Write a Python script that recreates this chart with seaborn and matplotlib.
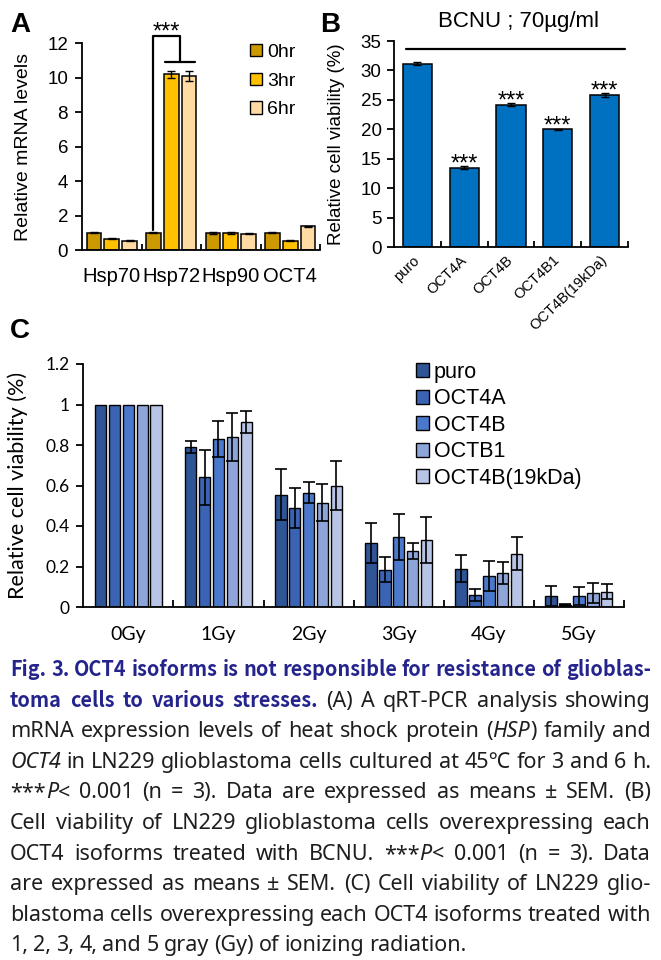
import numpy as np
import pandas as pd
import seaborn as sns
import matplotlib.pyplot as plt
from matplotlib.patches import Patch

# ---------------- data: panel A (qRT-PCR) ----------------
genes = ['Hsp70', 'Hsp72', 'Hsp90', 'OCT4']
times = ['0hr', '3hr', '6hr']
mrna_0hr = [1.0, 1.0, 1.0, 1.0]
mrna_3hr = [0.65, 10.2, 1.0, 0.55]
mrna_6hr = [0.55, 10.1, 0.95, 1.38]
err_0hr = [0.03, 0.03, 0.05, 0.04]
err_3hr = [0.02, 0.22, 0.07, 0.02]
err_6hr = [0.02, 0.30, 0.02, 0.04]
time_colors = ['#CC9900', '#FFC000', '#FFDBA3']

# ---------------- data: panel B (BCNU) ----------------
bcnu_lines = ['puro', 'OCT4A', 'OCT4B', 'OCT4B1', 'OCT4B(19kDa)']
bcnu_viab = [31.1, 13.5, 24.2, 20.0, 25.8]
bcnu_err = [0.25, 0.2, 0.2, 0.1, 0.3]
bcnu_sig = ['', '***', '***', '***', '***']

# ---------------- data: panel C (radiation) ----------------
doses = ['0Gy', '1Gy', '2Gy', '3Gy', '4Gy', '5Gy']
isoforms = ['puro', 'OCT4A', 'OCT4B', 'OCTB1', 'OCT4B(19kDa)']
viab_puro = [1.0, 0.79, 0.555, 0.315, 0.19, 0.053]
viab_oct4a = [1.0, 0.64, 0.49, 0.185, 0.058, 0.012]
viab_oct4b = [1.0, 0.83, 0.565, 0.345, 0.152, 0.054]
viab_octb1 = [1.0, 0.84, 0.515, 0.278, 0.168, 0.071]
viab_19kda = [1.0, 0.915, 0.60, 0.332, 0.263, 0.076]
sem_puro = [0, 0.03, 0.125, 0.098, 0.066, 0.049]
sem_oct4a = [0, 0.134, 0.10, 0.064, 0.03, 0.004]
sem_oct4b = [0, 0.088, 0.05, 0.115, 0.075, 0.043]
sem_octb1 = [0, 0.12, 0.09, 0.04, 0.056, 0.049]
sem_19kda = [0, 0.054, 0.12, 0.114, 0.081, 0.038]
iso_colors = ['#2F5597', '#3A63B4', '#4A78CC', '#8EA5DA', '#B8C4E6']

# ---------------- caption ----------------
caption = [
    [("Fig. 3. OCT4 isoforms is not responsible for resistance of glioblas-", 'b')],
    [("toma cells to various stresses.", 'b'), (" (A) A qRT-PCR analysis showing", 'r')],
    [("mRNA expression levels of heat shock protein (", 'r'), ("HSP", 'i'), (") family and", 'r')],
    [("OCT4", 'i'), (" in LN229 glioblastoma cells cultured at 45\u2103 for 3 and 6 h.", 'r')],
    [("***", 'r'), ("P", 'i'), ("< 0.001 (n = 3). Data are expressed as means \u00b1 SEM. (B)", 'r')],
    [("Cell viability of LN229 glioblastoma cells overexpressing each", 'r')],
    [("OCT4 isoforms treated with BCNU. ***", 'r'), ("P", 'i'), ("< 0.001 (n = 3). Data", 'r')],
    [("are expressed as means \u00b1 SEM. (C) Cell viability of LN229 glio-", 'r')],
    [("blastoma cells overexpressing each OCT4 isoforms treated with", 'r')],
    [("1, 2, 3, 4, and 5 gray (Gy) of ionizing radiation.", 'r')],
]

sns.set_theme(style='ticks', rc={'axes.edgecolor': 'black', 'xtick.color': 'black',
                                 'ytick.color': 'black', 'text.color': 'black',
                                 'axes.labelcolor': 'black', 'axes.linewidth': 1.3})
plt.rcParams['font.family'] = ['Liberation Sans', 'DejaVu Sans']

W, H = 661, 960
fig = plt.figure(figsize=(W / 100, H / 100), dpi=100)


def rect(l, t, r, b):
    return [l / W, 1 - b / H, (r - l) / W, (b - t) / H]


def add_errorbars(ax, containers, errs, capsize, lw=1.0):
    for cont, err in zip(containers, errs):
        for p, e in zip(cont, err):
            if e <= 0:
                continue
            ax.errorbar(p.get_x() + p.get_width() / 2, p.get_height(), yerr=e,
                        fmt='none', ecolor='black', elinewidth=lw, capsize=capsize,
                        capthick=lw, zorder=5)


# ================= Panel A =================
axA = fig.add_axes(rect(82, 43.3, 320, 250))
dfA = pd.DataFrame({'gene': genes * 3,
                    'time': np.repeat(times, len(genes)),
                    'value': mrna_0hr + mrna_3hr + mrna_6hr})
sns.barplot(data=dfA, x='gene', y='value', hue='time', palette=time_colors,
            width=0.9, gap=0.18, edgecolor='black', linewidth=1.1, saturation=1,
            errorbar=None, legend=False, ax=axA)
add_errorbars(axA, axA.containers, [err_0hr, err_3hr, err_6hr], capsize=3)
axA.set_xlim(-0.5, 3.5)
axA.set_ylim(0, 12)
axA.set_yticks(np.arange(0, 13, 2))
axA.set_xticks(np.arange(0.5, 4, 1), minor=True)
axA.tick_params(axis='x', which='major', length=0, pad=12, labelsize=14.5)
axA.tick_params(axis='x', which='minor', direction='in', length=4, width=1.3)
axA.tick_params(axis='y', length=5, width=1.3, labelsize=13.5, pad=5)
axA.set_xlabel('')
axA.set_ylabel('Relative mRNA levels', fontsize=14)
axA.yaxis.set_label_coords(-0.21, 0.5)
sns.despine(ax=axA)

# significance bracket Hsp72 0hr vs 3hr/6hr
c0 = axA.containers[0][1]
c3 = axA.containers[1][1]
c6 = axA.containers[2][1]
x0 = c0.get_x() + c0.get_width() / 2
x3 = c3.get_x() + c3.get_width() / 2
x6 = c6.get_x() + c6.get_width() / 2
xm = (x3 + x6) / 2
axA.plot([x0, x0, xm, xm], [1.15, 12.4, 12.4, 10.9], color='black', lw=1.6, clip_on=False)
axA.plot([x3 - 0.1, x6 + 0.1], [10.9, 10.9], color='black', lw=1.6, clip_on=False)
axA.text((x0 + xm) / 2, 12.25, '***', ha='center', va='baseline', fontsize=17, clip_on=False)

axA.legend([Patch(facecolor=c, edgecolor='black', lw=1) for c in time_colors], times,
           loc='upper left', bbox_to_anchor=(250 / W, 1 - 44 / H), bbox_transform=fig.transFigure,
           frameon=False, fontsize=14, handlelength=0.6, handleheight=0.6,
           handletextpad=0.3, labelspacing=0.6, borderpad=0, borderaxespad=0)

# ================= Panel B =================
axB = fig.add_axes(rect(394, 41, 628, 247))
sns.barplot(x=bcnu_lines, y=bcnu_viab, color='#0070C0', saturation=1, width=0.62,
            edgecolor='black', linewidth=1.1, errorbar=None, ax=axB)
add_errorbars(axB, axB.containers, [bcnu_err], capsize=3)
for p, s in zip(axB.containers[0], bcnu_sig):
    if s:
        axB.annotate(s, (p.get_x() + p.get_width() / 2, p.get_height()), xytext=(0, -2),
                     textcoords='offset points', ha='center', va='baseline', fontsize=17)
axB.plot([-0.24, 4.44], [33.6, 33.6], color='black', lw=1.6, clip_on=False)
axB.set_xlim(-0.5, 4.5)
axB.set_ylim(0, 35)
axB.set_yticks(np.arange(0, 36, 5))
axB.set_xticks(np.arange(0.5, 5, 1), minor=True)
axB.tick_params(axis='x', which='minor', direction='in', length=4, width=1.3)
axB.tick_params(axis='x', which='major', length=0, pad=8, labelsize=10.5)
axB.tick_params(axis='y', length=5, width=1.3, labelsize=13.5, pad=4)
plt.setp(axB.get_xticklabels(), rotation=44, ha='right', va='center', rotation_mode='anchor')
axB.set_ylabel('Relative cell viability (%)', fontsize=13.5)
axB.yaxis.set_label_coords(-0.209, 0.5)
sns.despine(ax=axB)
fig.text(519 / W, 1 - 22 / H, 'BCNU ; 70\u00b5g/ml', ha='center', va='center', fontsize=16)

# ================= Panel C =================
axC = fig.add_axes(rect(83.3, 364, 624, 607))
viab_all = [viab_puro, viab_oct4a, viab_oct4b, viab_octb1, viab_19kda]
sem_all = [sem_puro, sem_oct4a, sem_oct4b, sem_octb1, sem_19kda]
dfC = pd.DataFrame({'dose': doses * len(isoforms),
                    'isoform': np.repeat(isoforms, len(doses)),
                    'value': np.concatenate(viab_all)})
sns.barplot(data=dfC, x='dose', y='value', hue='isoform', palette=iso_colors,
            width=0.77, gap=0.18, edgecolor='black', linewidth=1.0, saturation=1,
            errorbar=None, legend=False, ax=axC)
add_errorbars(axC, axC.containers, sem_all, capsize=4.5, lw=1.2)
axC.set_xlim(-0.5, 5.5)
axC.set_ylim(0, 1.2)
axC.set_yticks(np.arange(0, 1.21, 0.2))
axC.set_yticklabels(['0', '0.2', '0.4', '0.6', '0.8', '1', '1.2'])
axC.set_xticks(np.arange(0.5, 6, 1), minor=True)
axC.tick_params(axis='x', which='minor', direction='in', length=5, width=1.3)
axC.tick_params(axis='x', which='major', length=0, pad=14)
axC.tick_params(axis='y', length=5, width=1.3, pad=5)
for lab in axC.get_xticklabels():
    lab.set_fontfamily(['Lato', 'DejaVu Sans'])
    lab.set_fontsize(14)
for lab in axC.get_yticklabels():
    lab.set_fontfamily(['Lato', 'DejaVu Sans'])
    lab.set_fontsize(12.5)
axC.set_xlabel('')
axC.set_ylabel('Relative cell viability (%)', fontsize=15.5, family=['Lato', 'DejaVu Sans'])
axC.yaxis.set_label_coords(-0.103, 0.5)
sns.despine(ax=axC)
axC.legend([Patch(facecolor=c, edgecolor='black', lw=1) for c in iso_colors], isoforms,
           loc='upper left', bbox_to_anchor=(416 / W, 1 - 362 / H), bbox_transform=fig.transFigure,
           frameon=False, fontsize=15.5, handlelength=0.62, handleheight=0.62,
           handletextpad=0.2, labelspacing=0.25, borderpad=0, borderaxespad=0)

# panel letters
for letter, x, y in [('A', 10, 12), ('B', 320, 12), ('C', 10, 318)]:
    fig.text(x / W, 1 - y / H, letter, ha='left', va='top', fontsize=20, weight='bold')

# ================= caption (justified) =================
styles = {
    'r': dict(family=['Noto Sans', 'Noto Sans CJK KR', 'DejaVu Sans'], color='#1e1e1e'),
    'b': dict(family=['Noto Sans CJK KR', 'DejaVu Sans'], color='#24248C', weight='bold'),
    'i': dict(family=['Noto Sans', 'DejaVu Sans'], color='#1e1e1e', style='italic'),
}
renderer = fig.canvas.get_renderer()
cap_left, cap_right = 10, 651
cap_w = cap_right - cap_left


def tokenize(segs):
    toks = [[]]
    for txt, st in segs:
        parts = txt.split(' ')
        for i, p in enumerate(parts):
            if i > 0:
                toks.append([])
            if p:
                toks[-1].append((p, st))
    return [t for t in toks if t]


def make_tokens(segs, y, sizes):
    out = []
    for tok in tokenize(segs):
        pieces = []
        for txt, st in tok:
            t = fig.text(0, 1 - y / H, txt, fontsize=sizes[st], va='baseline', ha='left', **styles[st])
            pieces.append([t, t.get_window_extent(renderer).width])
        out.append(pieces)
    return out


def line_width(tokens, gap):
    return sum(w for tok in tokens for _, w in tok) + gap * (len(tokens) - 1)


sizes = {'r': 15.5, 'b': 15.5, 'i': 15.5}
min_gap = 0.25 * 14 * 100 / 72
# fit bold size on the all-bold first line
probe = make_tokens(caption[0], 0, sizes)
need = line_width(probe, min_gap)
for tok in probe:
    for t, _ in tok:
        t.remove()
if need > cap_w:
    sizes['b'] = sizes['b'] * (cap_w - min_gap * (len(probe) - 1)) / (need - min_gap * (len(probe) - 1))

base_y = 676
line_step = 30.6
for i, segs in enumerate(caption):
    y = base_y + i * line_step
    tokens = make_tokens(segs, y, sizes)
    total = line_width(tokens, 0)
    if total + min_gap * (len(tokens) - 1) > cap_w:
        scale = (cap_w - min_gap * (len(tokens) - 1)) / total
        for tok in tokens:
            for piece in tok:
                piece[0].set_fontsize(piece[0].get_fontsize() * scale)
                piece[1] = piece[0].get_window_extent(renderer).width
        total = line_width(tokens, 0)
    if i < len(caption) - 1 and len(tokens) > 1:
        gap = (cap_w - total) / (len(tokens) - 1)
    else:
        gap = min_gap * 1.05
    x = cap_left
    for tok in tokens:
        for t, w in tok:
            t.set_x(x / W)
            x += w
        x += gap

fig.savefig('out.png', dpi=100)
